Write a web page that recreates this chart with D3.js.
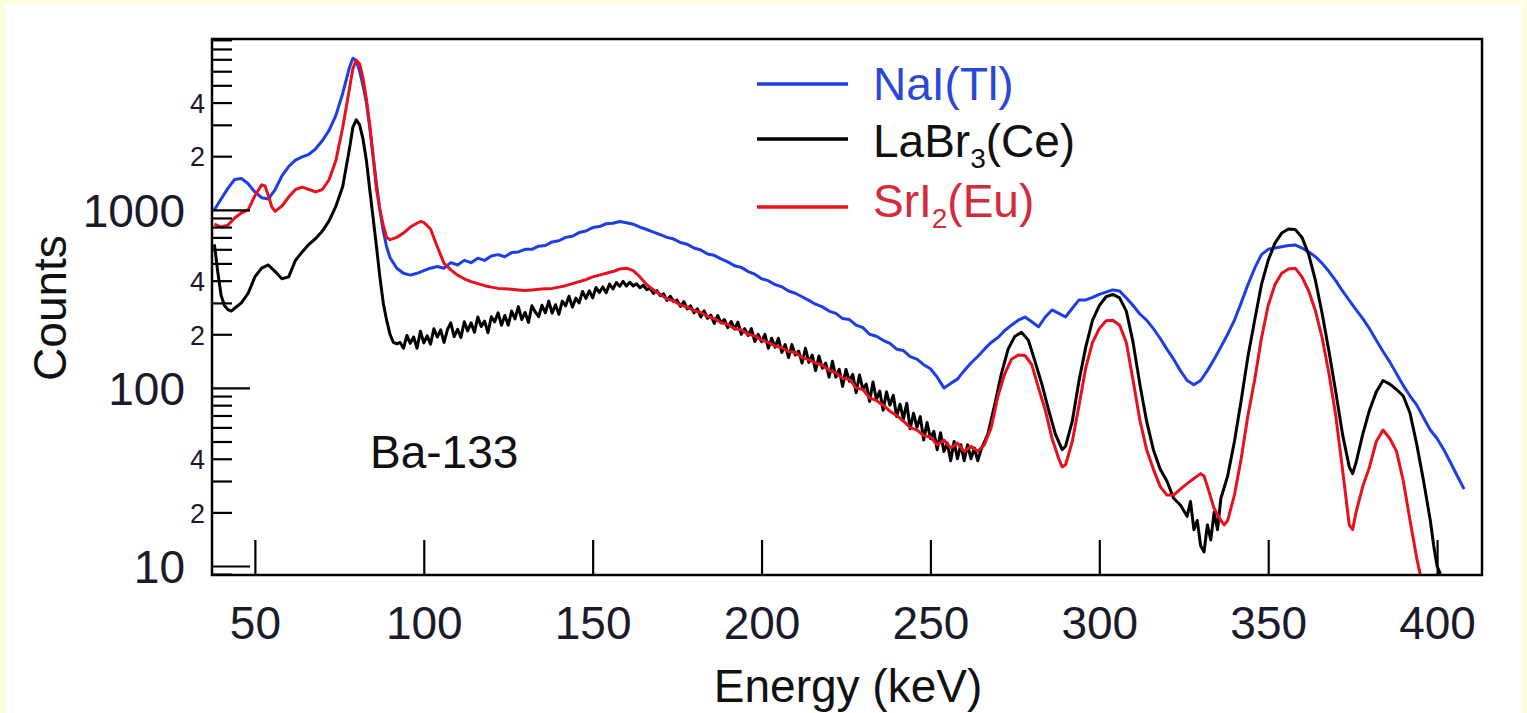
<!DOCTYPE html>
<html>
<head>
<meta charset="utf-8">
<script src="https://cdn.jsdelivr.net/npm/d3@7"></script>
<style>
  html, body { margin: 0; padding: 0; background: #fffedc; }
  svg { display: block; }
  text { font-family: "Liberation Sans", Arial, sans-serif; }
</style>
</head>
<body>
<svg id="chart" width="1527" height="713"></svg>
<script>
// ---------------- data ----------------
const naiE = [38,40,42,44,46,48,50,52,54,56,58,60,62,64,66,68,70,72,74,76,78,79,80,81,82,83,84,85,86,87,88,89,90,92,94,96,98,100,102,104,106,108,110,112,114,116,118,120,122,124,126,128,130,132,134,136,138,140,142,144,146,148,150,152,154,156,158,160,162,164,166,168,170,172,174,176,178,180,182,184,186,188,190,192,194,196,198,200,202,204,206,208,210,212,214,216,218,220,222,224,226,228,230,232,234,236,238,240,242,244,246,248,250,252,254,256,258,260,262,264,266,268,270,272,274,276,278,280,282,284,286,288,290,292,294,296,298,300,302,304,306,308,310,312,314,316,318,320,322,324,326,328,330,332,334,336,338,340,342,344,346,348,350,352,354,356,358,360,362,364,366,368,370,372,374,376,378,380,382,384,386,388,390,392,394,396,398,400,402,404,406,408,410];
const naiC = [1000,1150,1320,1480,1500,1400,1260,1170,1150,1300,1550,1750,1900,1980,2050,2200,2450,2800,3400,4500,6300,7100,6900,6000,5000,4000,2900,2000,1400,1000,760,620,540,470,440,430,440,455,470,480,470,505,490,520,505,535,520,550,560,545,575,580,600,600,625,630,660,670,700,710,745,760,795,805,835,840,860,845,830,800,775,750,725,700,685,655,640,610,595,565,555,530,510,485,475,450,435,410,400,380,370,350,340,325,310,295,285,270,262,245,242,225,218,200,195,185,178,165,162,150,145,135,128,115,100,106,112,125,138,150,165,180,192,210,225,240,250,235,220,250,274,262,250,280,312,312,322,335,345,355,350,320,290,260,240,215,190,165,145,125,110,104,110,125,145,170,200,240,300,380,470,560,600,610,620,630,635,610,580,545,500,450,400,350,310,275,245,215,185,160,140,120,103,90,80,68,58,52,45,38,32,27];

const labE = [38,39,40,41,42,43,44,46,48,50,52,54,56,58,60,62,64,66,68,70,72,74,76,78,79,80,81,82,83,84,85,86,87,88,89,90,91,92,
  93,94,95,96,97,98,99,100,101,102,103,104,105,106,107,108,109,110,111,112,113,114,115,116,117,118,119,120,
  121,122,123,124,125,126,127,128,129,130,131,132,133,134,135,136,137,138,139,140,141,142,143,144,145,146,147,148,149,150,
  151,152,153,154,155,156,157,158,159,160,161,162,163,164,165,166,167,168,169,170,171,172,173,174,175,176,177,178,179,180,
  181,182,183,184,185,186,187,188,189,190,191,192,193,194,195,196,197,198,199,200,201,202,203,204,205,206,207,208,209,210,
  211,212,213,214,215,216,217,218,219,220,221,222,223,224,225,226,227,228,229,230,231,232,233,234,235,236,237,238,239,240,
  241,242,243,244,245,246,247,248,249,250,251,252,253,254,255,256,257,258,259,260,261,262,263,264,265,
  267,269,271,273,275,277,279,281,283,285,287,289,290,292,294,296,298,300,302,304,306,308,310,312,314,316,318,320,322,324,326,327,328,329,330,331,332,333,334,335,336,338,340,342,344,346,348,350,352,354,356,358,360,362,364,366,368,370,372,374,375,376,378,380,382,384,386,388,390,392,394,396,398,399,400,401];
const labC = [640,450,330,290,275,270,280,300,340,420,470,490,450,410,420,520,580,640,690,760,870,1050,1350,2200,2900,3200,3000,2500,1900,1300,900,620,420,300,240,200,180,177,
  180,167,197,178,193,167,208,179,196,176,215,193,212,180,212,232,194,213,192,235,209,232,205,250,221,237,204,251,
  235,264,225,255,225,270,244,286,242,265,233,289,267,251,291,264,307,263,293,259,307,289,327,284,319,300,348,318,351,320,
  366,343,369,342,383,359,390,372,396,373,392,374,384,365,377,356,363,339,352,329,337,310,327,305,311,287,305,278,289,264,
  278,250,271,246,256,230,255,232,242,218,236,214,234,200,215,197,215,182,200,182,200,167,190,169,190,158,175,148,175,153,
  161,138,167,139,153,125,151,129,138,115,141,115,127,102,127,109,119,94,118,98,105,84,108,86,96,75,95,80,91,69,
  81,67,82,59,72,60,69,51,64,52,57,45,56,44,49,39,50,40,48,39,48,40,46,39,45,
  55,80,120,165,195,205,185,140,105,75,55,45,47,65,110,170,240,290,325,335,320,270,180,105,65,45,35,30,24,22,19,23,16,18,13,12,17,14,20,16,24,32,50,85,150,240,380,520,650,740,780,775,700,560,400,260,160,95,55,36,33,38,55,75,95,110,105,98,90,72,48,30,18,13,10,9];

const sriE = [38,40,42,44,46,48,50,52,53,54,55,56,58,60,62,64,66,68,70,72,74,76,78,79,80,81,82,83,84,85,86,87,88,89,90,92,94,96,98,99,100,102,104,106,108,110,112,114,116,118,120,122,124,126,128,130,132,134,136,138,140,142,144,146,148,150,152,154,156,158,160,162,164,166,168,170,172,174,176,178,180,182,184,186,188,190,192,194,196,198,200,202,204,206,208,210,212,214,216,218,220,222,224,226,228,230,232,234,236,238,240,242,244,246,248,250,252,254,256,258,260,262,264,266,268,270,272,274,276,278,280,282,284,286,288,289,290,292,294,296,298,300,302,304,306,308,310,312,314,316,318,320,322,324,326,328,330,331,332,334,336,337,338,340,342,344,346,348,350,352,354,356,358,360,362,364,366,368,370,372,374,375,376,378,380,382,384,386,388,390,392,394,395];
const sriC = [830,800,820,900,960,1000,1200,1380,1360,1200,1040,980,1050,1180,1300,1340,1300,1260,1300,1480,1900,2900,4800,6200,6900,6600,5500,4200,3000,2000,1300,1000,820,700,680,700,740,800,840,860,850,780,620,500,460,430,410,395,385,375,368,362,360,358,355,352,355,358,360,362,368,375,385,395,405,420,430,440,450,465,470,455,420,380,355,335,315,308,292,284,272,265,252,245,232,228,215,212,200,196,186,180,172,168,160,158,148,144,138,134,125,122,113,112,100,98,88,85,80,74,70,65,60,58,54,53,48,51,46,49,44,47,44,48,60,90,120,145,153,152,135,100,75,52,40,36,37,50,80,130,180,215,238,240,225,180,110,66,45,35,28,25,25,27,29,31,33,32,28,21,18,17,18,25,40,70,111,190,290,380,440,465,470,420,350,270,190,120,70,35,17,16,20,28,36,50,58,52,44,30,18,11,9];

const xTicks = [50,100,150,200,250,300,350,400];
const yMajor = [10,100,1000];
const yMinorLabels = [2,4];

const seriesNames = ["NaI(Tl)", "LaBr3(Ce)", "SrI2(Eu)"];
const seriesColors = ["#1c3ee6", "#000000", "#e8101c"];
const textColors = ["#2a48d8", "#111111", "#d42a3a"];

// ---------------- layout ----------------
const W = 1527, H = 713;
const L = 212, T = 39, R = 1482, B = 575;
const font = '"Liberation Sans", Arial, sans-serif';

const svg = d3.select("#chart");
svg.append("rect").attr("x", 5).attr("y", 4).attr("width", W - 10).attr("height", H - 4).attr("fill", "#ffffff");

const x = d3.scaleLinear().domain([37.3, 413.3]).range([L, R]);
const y = d3.scaleLog().domain([8.9, 9100]).range([B, T]);

const plot = svg.append("g");
const clip = svg.append("clipPath").attr("id", "clip");
clip.append("rect").attr("x", L).attr("y", T).attr("width", R - L).attr("height", B - T);

const line = d3.line().x(d => x(d[0])).y(d => y(d[1]));

const series = [
  d3.zip(naiE, naiC),
  d3.zip(labE, labC),
  d3.zip(sriE, sriC)
];
[0, 1, 2].forEach(i => {
  plot.append("path")
    .datum(series[i])
    .attr("clip-path", "url(#clip)")
    .attr("fill", "none")
    .attr("stroke", seriesColors[i])
    .attr("stroke-width", 3)
    .attr("stroke-linejoin", "round")
    .attr("d", line);
});

// ---------------- axes ----------------
const xAxis = d3.axisBottom(x).tickValues(xTicks).tickSize(-35).tickPadding(48).tickFormat(d3.format("d"));
const gx = svg.append("g").attr("transform", `translate(0,${B})`).call(xAxis);
gx.select(".domain").remove();
gx.selectAll(".tick line").attr("stroke", "#000").attr("stroke-width", 2.2);
gx.selectAll(".tick text").attr("font-size", 46).attr("font-family", font).attr("fill", "#1a1a2a").attr("dy", "0.35em").attr("y", 48);

const allTicks = y.ticks().filter(v => v >= 8.9 && v <= 9100);
const yAxis = d3.axisLeft(y).tickValues(allTicks).tickSize(0).tickFormat("");
const gy = svg.append("g").attr("transform", `translate(${L},0)`).call(yAxis);
gy.select(".domain").remove();
gy.selectAll(".tick").each(function(d) {
  const g = d3.select(this);
  const lead = Math.round(d / Math.pow(10, Math.floor(Math.log10(d) + 1e-9)));
  const isMajor = yMajor.includes(d);
  g.append("line").attr("x1", 0).attr("x2", isMajor ? 38 : 20)
    .attr("stroke", "#000").attr("stroke-width", 2.2);
  if (isMajor) {
    g.append("text").attr("x", -27).attr("dy", "0.36em").attr("text-anchor", "end")
      .attr("font-size", 46).attr("font-family", font).attr("fill", "#1a1a2a").text(d);
  } else if (yMinorLabels.includes(lead)) {
    g.append("text").attr("x", -7).attr("dy", "0.36em").attr("text-anchor", "end")
      .attr("font-size", 27).attr("font-family", font).attr("fill", "#1a1a2a").text(lead);
  }
});

// frame
svg.append("rect").attr("x", L).attr("y", T).attr("width", R - L).attr("height", B - T)
  .attr("fill", "none").attr("stroke", "#000").attr("stroke-width", 2.5);

// axis titles
svg.append("text").attr("transform", "translate(50,308) rotate(-90)")
  .attr("text-anchor", "middle").attr("dy", "0.35em")
  .attr("font-size", 46).attr("font-family", font).attr("fill", "#111").text("Counts");
svg.append("text").attr("x", 848).attr("y", 702).attr("text-anchor", "middle")
  .attr("font-size", 46).attr("font-family", font).attr("fill", "#111").text("Energy (keV)");

// annotation
svg.append("text").attr("x", 370).attr("y", 468)
  .attr("font-size", 46).attr("font-family", font).attr("fill", "#111").text("Ba-133");

// legend
const legLineY = [84, 139, 207];
const legTextY = [100, 157, 217];
const leg = svg.append("g");
seriesNames.forEach((name, i) => {
  leg.append("line").attr("x1", 757).attr("x2", 848).attr("y1", legLineY[i]).attr("y2", legLineY[i])
    .attr("stroke", seriesColors[i]).attr("stroke-width", 3.5);
  const t = leg.append("text").attr("x", 873).attr("y", legTextY[i])
    .attr("font-size", 46).attr("font-family", font).attr("fill", textColors[i]);
  const m = name.match(/^([A-Za-z]+)(\d)(\(.*\))$/);
  if (m) {
    t.append("tspan").text(m[1]);
    t.append("tspan").attr("font-size", 28).attr("dy", 11).text(m[2]);
    t.append("tspan").attr("dy", -11).text(m[3]);
  } else {
    t.text(name);
  }
});
</script>
</body>
</html>
